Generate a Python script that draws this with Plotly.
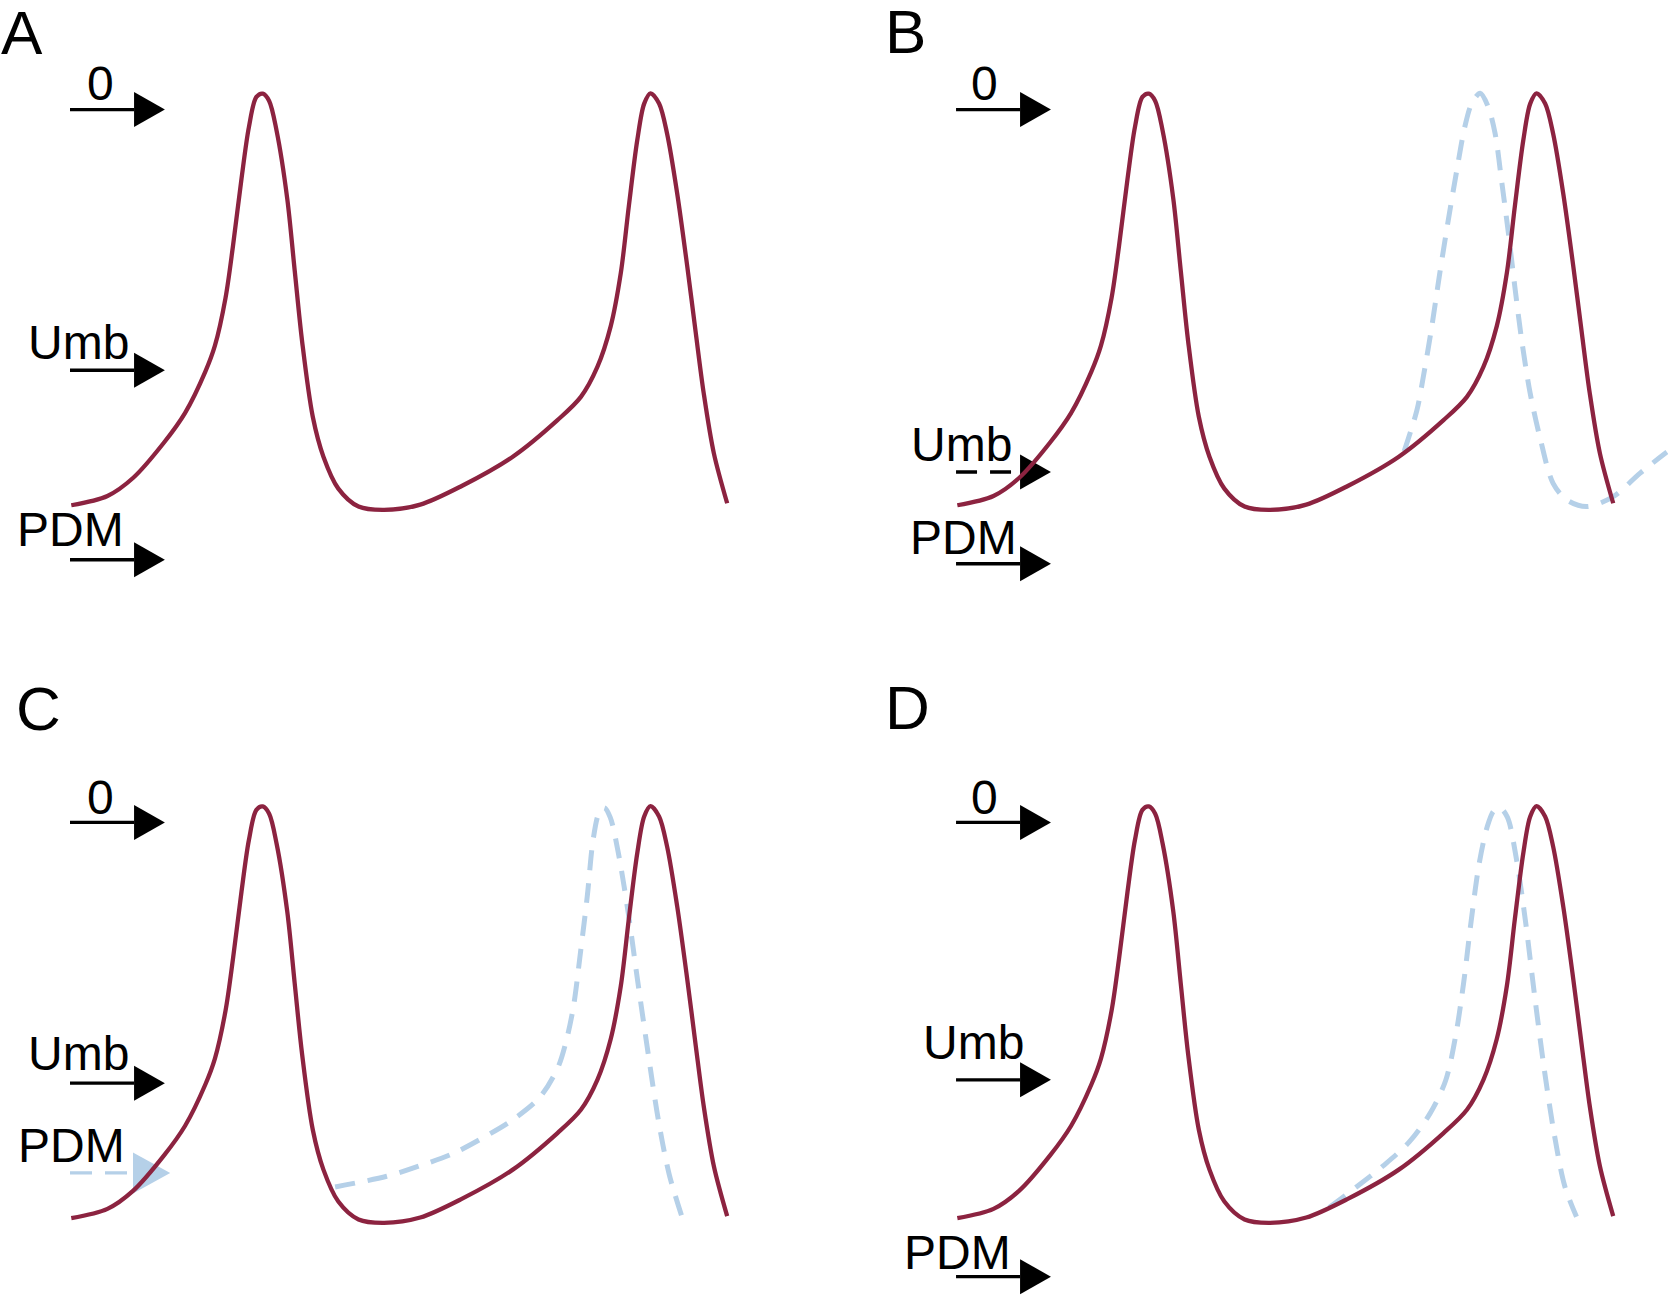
import plotly.graph_objects as go

# membrane potential traces, time in ms, potential in mV
# red trace is the same in every panel
t_red = [0, 68, 116, 174, 214, 252, 270, 290, 304, 320, 334, 348, 360, 372, 386,
         406, 420, 434, 454, 474, 502, 540, 588, 656, 734, 830, 914, 958, 989,
         1014, 1033, 1048, 1064, 1077, 1089, 1105, 1120, 1139, 1158, 1174, 1189,
         1208, 1233]
v_red = [-59.5, -58.1, -55.4, -50.1, -45.6, -39.4, -35.5, -28.3, -20.5, -10.4,
         -2.6, 1.9, 2.4, 1.3, -3.2, -13.4, -24.2, -34.9, -46.2, -52.2, -57.0,
         -59.7, -60.2, -59.4, -56.6, -52.2, -46.7, -43.2, -38.7, -32.6, -24.6,
         -14.6, -4.6, 0.9, 2.45, 0.9, -3.6, -12.6, -23.6, -33.6, -42.7, -51.7,
         -59.2]

# dashed (modified) traces
t_blue_b = [840, 864, 876, 892, 907, 923, 939, 954, 967, 983, 998, 1011, 1023,
            1036, 1048, 1061, 1077, 1095, 1120, 1146, 1183, 1233, 1283, 1334]
v_blue_b = [-51.4, -45.2, -40.2, -32.6, -24.6, -16.6, -9.1, -2.6, 0.9, 2.45, 0.4,
            -3.6, -10.6, -18.6, -26.6, -34.7, -42.7, -49.2, -56.2, -58.7, -59.7,
            -58.2, -54.7, -51.5]

t_blue_c = [496, 593, 656, 717, 774, 830, 881, 915, 930, 944, 957, 970, 981, 992,
            1002, 1013, 1028, 1047, 1064, 1084, 1104, 1124, 1148]
v_blue_c = [-54.8, -53.2, -51.6, -49.8, -47.4, -44.7, -41.3, -36.8, -33.0, -27.7,
            -19.7, -11.1, -2.6, 1.4, 2.2, 0.8, -4.4, -13.6, -23.4, -34.5, -44.9,
            -52.9, -59.3]

t_blue_d = [699, 752, 801, 850, 889, 918, 937, 952, 966, 981, 996, 1008, 1020,
            1034, 1050, 1068, 1085, 1103, 1122, 1142, 1164]
v_blue_d = [-57.9, -54.7, -51.6, -48.0, -43.7, -38.8, -32.0, -24.0, -14.8, -6.2,
            -0.7, 1.7, 2.2, 0.8, -5.0, -14.8, -25.9, -36.9, -46.8, -54.7, -59.3]

panels = ["A", "B", "C", "D"]
level_names = ["0", "Umb", "PDM"]
levels_a = [0, -39.2, -67.7]
levels_b = [0, -54.5, -68.3]
levels_c = [0, -39.2, -52.7]
levels_d = [0, -38.7, -68.3]

RED = "#8c2340"
BLUE = "#b5d0e8"
FONT = "Liberation Sans, Arial, Helvetica, sans-serif"

blue_traces = {"A": None, "B": (t_blue_b, v_blue_b), "C": (t_blue_c, v_blue_c),
               "D": (t_blue_d, v_blue_d)}
all_levels = {"A": levels_a, "B": levels_b, "C": levels_c, "D": levels_d}

# layout of the four panels
col_dom = [[0, 0.4688], [0.5312, 1]]
row_dom = [[0.5497, 1], [0, 0.4504]]
letter_pos = {"A": (0.0129, 0.9746), "B": (0.5429, 0.9754),
              "C": (0.0231, 0.4537), "D": (0.5438, 0.4545)}
# label positions (t, V) for 0 / Umb / PDM
label_pos = {
    "A": [(55, 3.85), (14.5, -35.0), (-2.4, -63.2)],
    "B": [(52, 3.85), (7, -50.4), (10.7, -64.4)],
    "C": [(54, 3.7), (14, -34.7), (1.3, -48.5)],
    "D": [(52, 3.7), (31, -33.1), (0, -64.7)],
}

fig = go.Figure()
shapes = []
annotations = []

for i, p in enumerate(panels):
    n = "" if i == 0 else str(i + 1)
    xr, yr = "x" + n, "y" + n
    fig.update_layout({
        "xaxis" + n: dict(domain=col_dom[i % 2], range=[-134, 1336], visible=False,
                          anchor=yr, fixedrange=True),
        "yaxis" + n: dict(domain=row_dom[i // 2], range=[-71.35, 16.48], visible=False,
                          anchor=xr, fixedrange=True),
    })

    if blue_traces[p] is not None:
        bt, bv = blue_traces[p]
        fig.add_trace(go.Scatter(x=bt, y=bv, mode="lines", xaxis=xr, yaxis=yr,
                                 line=dict(color=BLUE, width=5, dash="20px,13px",
                                           shape="spline", smoothing=0.9),
                                 hoverinfo="skip", showlegend=False))
    fig.add_trace(go.Scatter(x=t_red, y=v_red, mode="lines", xaxis=xr, yaxis=yr,
                             line=dict(color=RED, width=4.3, shape="spline", smoothing=0.9),
                             hoverinfo="skip", showlegend=False))

    # level arrows
    for k, lv in enumerate(all_levels[p]):
        color = "black"
        dash = "solid"
        base, tip, half = 118, 176, 2.63
        if p == "B" and k == 1:
            dash = "21px,13px"
        if p == "C" and k == 2:
            color = BLUE
            dash = "22px,13px"
            base, tip, half = 116, 186, 3.08
        shapes.append(dict(type="line", xref=xr, yref=yr, x0=-2.4, x1=base, y0=lv, y1=lv,
                           line=dict(color=color, width=3.3, dash=dash), layer="below"))
        shapes.append(dict(type="path", xref=xr, yref=yr, layer="below",
                           path=f"M {base},{lv + half} L {tip},{lv} L {base},{lv - half} Z",
                           fillcolor=color, line=dict(width=0)))
        lx, ly = label_pos[p][k]
        annotations.append(dict(x=lx, y=ly, xref=xr, yref=yr, text=level_names[k],
                                showarrow=False, xanchor="center", yanchor="middle",
                                font=dict(family=FONT, size=48, color="black")))

    px_, py_ = letter_pos[p]
    annotations.append(dict(x=px_, y=py_, xref="paper", yref="paper", text=p,
                            showarrow=False, xanchor="center", yanchor="middle",
                            font=dict(family=FONT, size=62, color="black")))

fig.update_layout(
    width=1668, height=1297,
    margin=dict(l=0, r=0, t=0, b=0),
    paper_bgcolor="white", plot_bgcolor="white",
    shapes=shapes, annotations=annotations,
    showlegend=False,
)

fig.write_html("out.html", config={"displayModeBar": False},
               post_script="document.body.style.margin='0px';"
                           "document.body.style.overflow='hidden';")
